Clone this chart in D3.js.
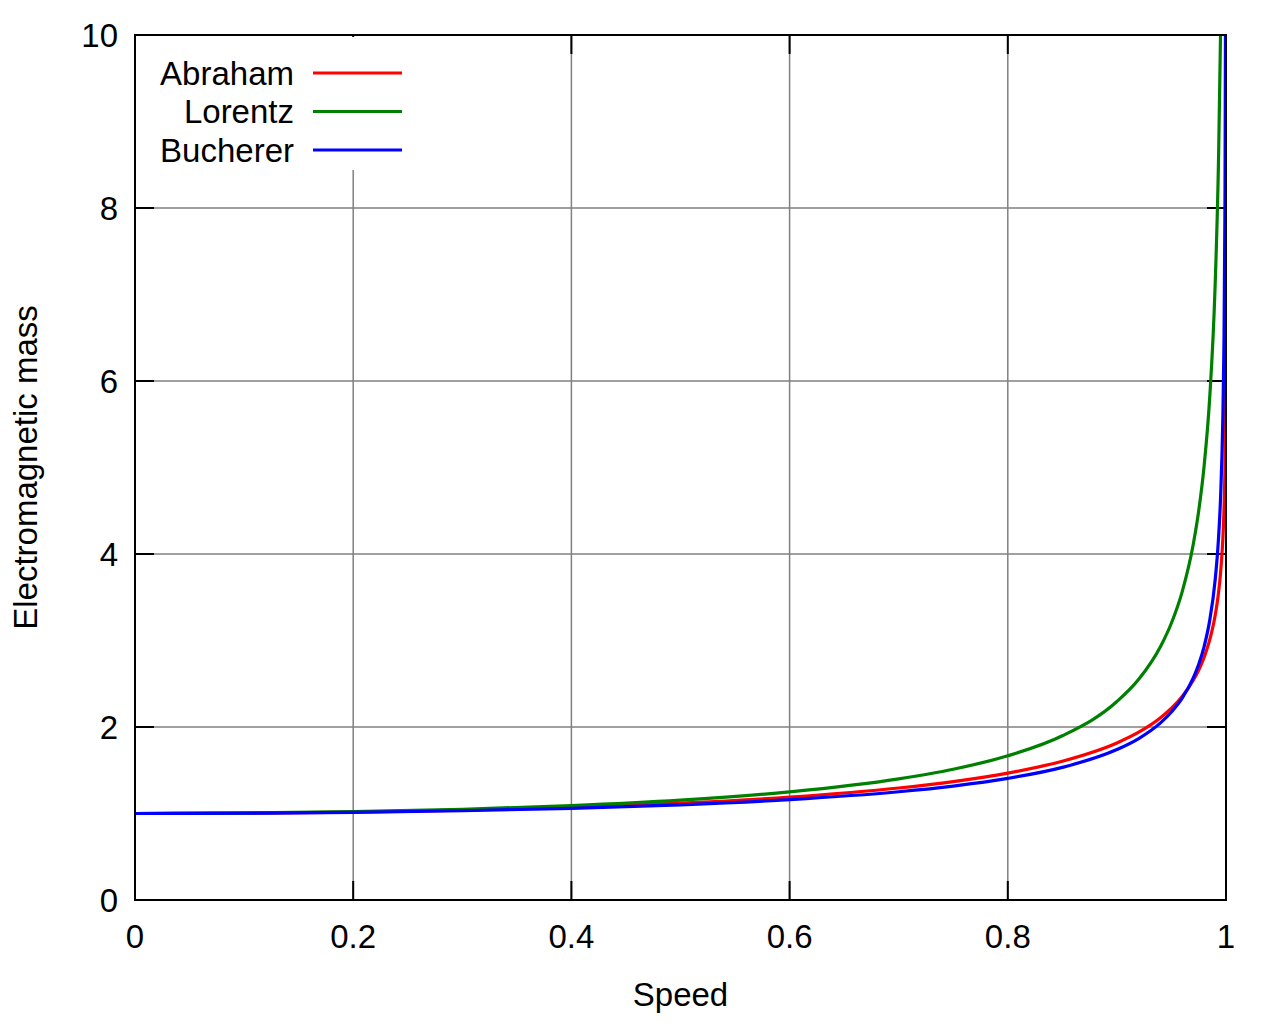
<!DOCTYPE html>
<html>
<head>
<meta charset="utf-8">
<script src="https://cdn.jsdelivr.net/npm/d3@7"></script>
<style>
  body { margin: 0; background: #fff; }
  text { font-family: "Liberation Sans", Arial, sans-serif; fill: #000; }
</style>
</head>
<body>
<svg id="chart"></svg>
<script>
// speed values (fraction of c), denser near 1
const SPEEDS = [0, 0.1, 0.2, 0.3, 0.4, 0.5, 0.6, 0.7, 0.75, 0.8, 0.85, 0.9, 0.92, 0.94,
  0.95, 0.96, 0.97, 0.975, 0.98, 0.985, 0.99, 0.993, 0.995, 0.997, 0.998, 0.999,
  0.9995, 0.9999, 0.99999, 0.999999];

const ABRAHAM = [1, 1.004, 1.0164, 1.0382, 1.0715, 1.1198, 1.1899, 1.2951, 1.3693, 1.4674,
  1.6044, 1.8156, 1.9398, 2.1074, 2.2175, 2.356, 2.54, 2.6595, 2.8083, 3.0039, 3.2856,
  3.5381, 3.7795, 4.1505, 4.4479, 4.9602, 5.4758, 6.6789, 8.4047, 10.13];

const LORENTZ = [1, 1.005, 1.0206, 1.0483, 1.0911, 1.1547, 1.25, 1.4003, 1.5119, 1.6667,
  1.8983, 2.2942, 2.5516, 2.9311, 3.2026, 3.5714, 4.1134, 4.5004, 5.0252, 5.7953, 7.0888,
  8.4665, 10.0125, 12.92, 15.81, 22.37, 31.63, 70.7, 223.6, 707.1];

const BUCHERER = [1, 1.0034, 1.0137, 1.0319, 1.0598, 1.1006, 1.1604, 1.2517, 1.3173, 1.4057,
  1.5328, 1.7394, 1.8667, 2.0475, 2.173, 2.336, 2.5667, 2.7255, 2.9333, 3.2268, 3.6914,
  4.153, 4.645, 5.507, 6.3, 7.937, 10.0, 17.1, 36.8, 79.4];

const SERIES = [
  { name: 'Abraham', color: '#ff0000', values: ABRAHAM },
  { name: 'Lorentz', color: '#008000', values: LORENTZ },
  { name: 'Bucherer', color: '#0000ff', values: BUCHERER },
];

const X_TICKS = [0, 0.2, 0.4, 0.6, 0.8, 1];
const Y_TICKS = [0, 2, 4, 6, 8, 10];

const WIDTH = 1280;
const HEIGHT = 1024;
const MARGIN = { top: 35, right: 54, bottom: 124, left: 135 };
const PLOT_W = WIDTH - MARGIN.left - MARGIN.right;
const PLOT_H = HEIGHT - MARGIN.top - MARGIN.bottom;
const FONT = 33;

const xScale = d3.scaleLinear().domain([0, 1]).range([0, PLOT_W]);
const yScale = d3.scaleLinear().domain([0, 10]).range([PLOT_H, 0]);

const svg = d3.select('#chart')
  .attr('width', WIDTH)
  .attr('height', HEIGHT);

const chart = svg.append('g')
  .attr('transform', `translate(${MARGIN.left}, ${MARGIN.top})`);

chart.append('clipPath')
  .attr('id', 'plot-clip')
  .append('rect')
  .attr('width', PLOT_W)
  .attr('height', PLOT_H);

// grid
chart.append('g')
  .selectAll('line')
  .data(X_TICKS.slice(1, -1))
  .enter()
  .append('line')
  .attr('x1', d => xScale(d))
  .attr('x2', d => xScale(d))
  .attr('y1', 0)
  .attr('y2', PLOT_H)
  .attr('stroke', '#808080')
  .attr('stroke-width', 1.5);

chart.append('g')
  .selectAll('line')
  .data(Y_TICKS.slice(1, -1))
  .enter()
  .append('line')
  .attr('x1', 0)
  .attr('x2', PLOT_W)
  .attr('y1', d => yScale(d))
  .attr('y2', d => yScale(d))
  .attr('stroke', '#808080')
  .attr('stroke-width', 1.5);

// inward ticks on all four sides
const TICK = 19;
const ticks = chart.append('g').attr('stroke', '#000').attr('stroke-width', 2);
X_TICKS.forEach(t => {
  ticks.append('line').attr('x1', xScale(t)).attr('x2', xScale(t)).attr('y1', PLOT_H).attr('y2', PLOT_H - TICK);
  ticks.append('line').attr('x1', xScale(t)).attr('x2', xScale(t)).attr('y1', 0).attr('y2', TICK);
});
Y_TICKS.forEach(t => {
  ticks.append('line').attr('x1', 0).attr('x2', TICK).attr('y1', yScale(t)).attr('y2', yScale(t));
  ticks.append('line').attr('x1', PLOT_W).attr('x2', PLOT_W - TICK).attr('y1', yScale(t)).attr('y2', yScale(t));
});

// legend background (covers grid)
const legend = chart.append('g');
legend.append('rect')
  .attr('x', 10)
  .attr('y', 2)
  .attr('width', 270)
  .attr('height', 133)
  .attr('fill', '#fff');

// curves
const line = d3.line()
  .x((d, i) => xScale(SPEEDS[i]))
  .y(d => yScale(d))
  .curve(d3.curveMonotoneX);

chart.append('g')
  .attr('clip-path', 'url(#plot-clip)')
  .selectAll('path')
  .data(SERIES)
  .enter()
  .append('path')
  .attr('d', d => line(d.values))
  .attr('fill', 'none')
  .attr('stroke', d => d.color)
  .attr('stroke-width', 3.2);

// frame
chart.append('rect')
  .attr('width', PLOT_W)
  .attr('height', PLOT_H)
  .attr('fill', 'none')
  .attr('stroke', '#000')
  .attr('stroke-width', 2);

// legend entries
const legendItems = legend.selectAll('.legend-item')
  .data(SERIES)
  .enter()
  .append('g')
  .attr('transform', (d, i) => `translate(0, ${38 + i * 38.5})`);

legendItems.append('text')
  .attr('x', 159)
  .attr('y', 0)
  .attr('dy', '0.35em')
  .attr('text-anchor', 'end')
  .attr('font-size', FONT)
  .text(d => d.name);

legendItems.append('line')
  .attr('x1', 178)
  .attr('x2', 267)
  .attr('stroke', d => d.color)
  .attr('stroke-width', 3.2);

// tick labels
chart.append('g')
  .selectAll('text')
  .data(X_TICKS)
  .enter()
  .append('text')
  .attr('x', d => xScale(d))
  .attr('y', PLOT_H + 48)
  .attr('text-anchor', 'middle')
  .attr('font-size', FONT)
  .text(d => d3.format('~g')(d));

chart.append('g')
  .selectAll('text')
  .data(Y_TICKS)
  .enter()
  .append('text')
  .attr('x', -17)
  .attr('y', d => yScale(d))
  .attr('dy', '0.35em')
  .attr('text-anchor', 'end')
  .attr('font-size', FONT)
  .text(d => d);

// axis titles
svg.append('text')
  .attr('x', MARGIN.left + PLOT_W / 2)
  .attr('y', 1006)
  .attr('text-anchor', 'middle')
  .attr('font-size', FONT)
  .text('Speed');

svg.append('text')
  .attr('transform', `translate(37, ${MARGIN.top + PLOT_H / 2}) rotate(-90)`)
  .attr('text-anchor', 'middle')
  .attr('font-size', FONT)
  .text('Electromagnetic mass');
</script>
</body>
</html>
